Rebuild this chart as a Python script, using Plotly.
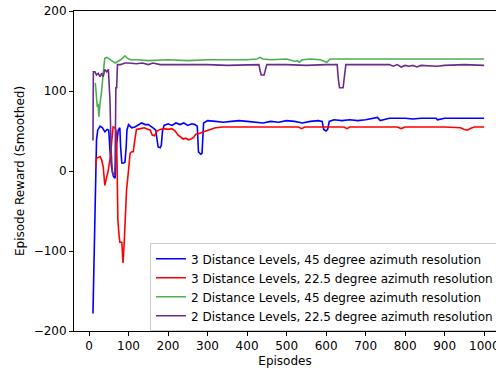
import plotly.graph_objects as go

# ---- data ----
blue_x = [10, 19, 22, 28, 34, 40, 46, 50, 53, 57,
          62, 66, 68, 70, 74, 78, 80, 83, 88, 91,
          94, 96, 100, 108, 116, 124, 133, 142, 150, 162,
          169, 172, 175, 180, 183, 186, 190, 200, 210, 220,
          230, 240, 250, 260, 268, 274, 277, 283, 286, 290,
          300, 320, 340, 360, 380, 400, 420, 440, 460, 480,
          500, 520, 540, 560, 580, 590, 594, 600, 604, 608,
          620, 640, 660, 680, 700, 719, 730, 737, 760, 780,
          800, 820, 840, 860, 878, 882, 900, 920, 940, 960,
          980, 1000]
blue_y = [-178, 39, 51, 56, 54, 49, 52, 51, 26, 5,
          -7, -9, 10, 35, 51, 54, 30, 10, 10, 11,
          30, 51, 58, 54, 55, 57, 60, 58, 58, 54,
          51, 40, 30, 29, 32, 50, 57, 59, 57, 60,
          58, 60, 57, 59, 58, 56, 24, 21, 22, 60,
          63, 62, 61, 62, 63, 62, 61, 60, 62, 61,
          63, 62, 60, 62, 63, 62, 52, 50, 52, 62,
          64, 63, 64, 63, 64, 66, 67, 63, 66, 66,
          66, 65, 66, 66, 66, 64, 66, 66, 66, 66,
          66, 66]

red_x = [17, 19, 28, 32, 36, 40, 45, 48, 53, 56,
         58, 61, 66, 69, 71, 73, 76, 78, 83, 86,
         89, 91, 95, 100, 104, 108, 112, 116, 120, 130,
         140, 150, 155, 160, 166, 172, 180, 190, 200, 210,
         218, 225, 232, 238, 245, 252, 258, 265, 270, 280,
         290, 300, 320, 340, 400, 500, 530, 538, 546, 600,
         645, 653, 660, 700, 780, 790, 800, 900, 940, 950,
         957, 965, 975, 1000]
red_y = [5, 16, 18, 14, 5, -18, -7, -1, 14, 30,
         45, 55, 54, 49, 10, -61, -80, -89, -89, -115,
         -90, -61, -24, 1, 22, 24, 24, 39, 52, 53,
         54, 52, 51, 45, 44, 50, 52, 53, 52, 53,
         50, 45, 42, 40, 41, 39, 40, 42, 46, 47,
         49, 51, 54, 55, 55, 55, 55, 53, 55, 55,
         55, 53, 55, 55, 55, 53, 55, 55, 54, 52,
         51, 53, 55, 55]

green_x = [16, 19, 21, 23, 25, 28, 32, 36, 40, 45,
           50, 55, 60, 66, 72, 80, 91, 97, 105, 120,
           150, 200, 250, 300, 350, 400, 425, 433, 440, 460,
           500, 522, 527, 532, 540, 560, 585, 595, 602, 610,
           640, 700, 800, 900, 1000]
green_y = [110, 90, 80, 84, 68, 85, 100, 123, 141, 142,
           140, 139, 137, 135, 137, 139, 144, 141, 139, 139,
           138, 139, 138, 139, 139, 139, 140, 142, 140, 139,
           140, 137, 138, 136, 139, 140, 139, 137, 136, 140,
           140, 140, 140, 140, 140]

purple_x = [10, 11, 15, 19, 23, 28, 32, 36, 40, 45,
            49, 53, 56, 59, 62, 65, 66, 68, 70, 72,
            80, 91, 100, 120, 135, 150, 162, 180, 200, 250,
            300, 350, 400, 430, 433, 436, 443, 446, 450, 500,
            550, 600, 628, 631, 634, 643, 646, 650, 700, 760,
            770, 780, 790, 800, 810, 820, 830, 840, 880, 900,
            950, 1000]
purple_y = [38, 124, 124, 120, 122, 118, 122, 118, 127, 124,
            127, 89, 26, -2, -5, -4, 10, 104, 104, 133,
            133, 135, 135, 134, 135, 133, 135, 133, 133, 133,
            133, 132, 133, 133, 125, 120, 120, 125, 133, 133,
            132, 133, 133, 115, 104, 104, 115, 133, 133, 133,
            131, 133, 130, 132, 131, 132, 130, 132, 131, 132,
            133, 132]

series_names = [
    "3 Distance Levels, 45 degree azimuth resolution",
    "3 Distance Levels, 22.5 degree azimuth resolution",
    "2 Distance Levels, 45 degree azimuth resolution",
    "2 Distance Levels, 22.5 degree azimuth resolution",
]
series_colors = ["#0000ff", "#ff0000", "#4caf50", "#6a2c8a"]

x_ticks = [0, 100, 200, 300, 400, 500, 600, 700, 800, 900, 1000]
y_ticks = [-200, -100, 0, 100, 200]
y_tick_text = ["\u2212200", "\u2212100", "0", "100", "200"]

# ---- figure ----
fig = go.Figure()
for xs, ys, name, col in zip(
    [blue_x, red_x, green_x, purple_x],
    [blue_y, red_y, green_y, purple_y],
    series_names, series_colors,
):
    fig.add_trace(go.Scatter(x=xs, y=ys, mode="lines", name=name,
                             line=dict(color=col, width=1.6)))

font = dict(family="DejaVu Sans", size=12, color="#000000")

fig.update_layout(
    width=496, height=368,
    margin=dict(l=74, r=0, t=11, b=37, autoexpand=False),
    paper_bgcolor="white", plot_bgcolor="white",
    font=font,
    showlegend=True,
    legend=dict(
        x=0.18, y=0.274, xanchor="left", yanchor="top",
        bgcolor="rgba(255,255,255,0.85)",
        bordercolor="#cccccc", borderwidth=1,
        font=font,
        tracegroupgap=0, itemwidth=30,
    ),
    xaxis=dict(
        range=[-38, 1030], tickvals=x_ticks, ticks="outside", ticklen=4,
        tickwidth=1, tickcolor="black", showline=True, linecolor="black",
        linewidth=1, mirror=True, showgrid=False, zeroline=False,
        automargin=False, tickfont=font,
        title=dict(text="Episodes", standoff=6, font=font),
    ),
    yaxis=dict(
        range=[-200, 200], tickvals=y_ticks, ticktext=y_tick_text,
        ticks="outside", ticklen=4, tickwidth=1, tickcolor="black",
        showline=True, linecolor="black", linewidth=1, mirror=False,
        showgrid=False, zeroline=False, automargin=False, tickfont=font,
        title=dict(text="Episode Reward (Smoothed)", standoff=6, font=font),
    ),
)

# The last x tick label sits at the page edge (cut off, as in the reference)
fig.add_annotation(x=1000, y=0, xref="x", yref="paper", text="1000",
                   showarrow=False, yanchor="top", yshift=-6,
                   font=font)

fig.write_html(
    "out.html",
    config={"displayModeBar": False},
    post_script="document.body.style.margin='0';document.body.style.padding='0';",
)
